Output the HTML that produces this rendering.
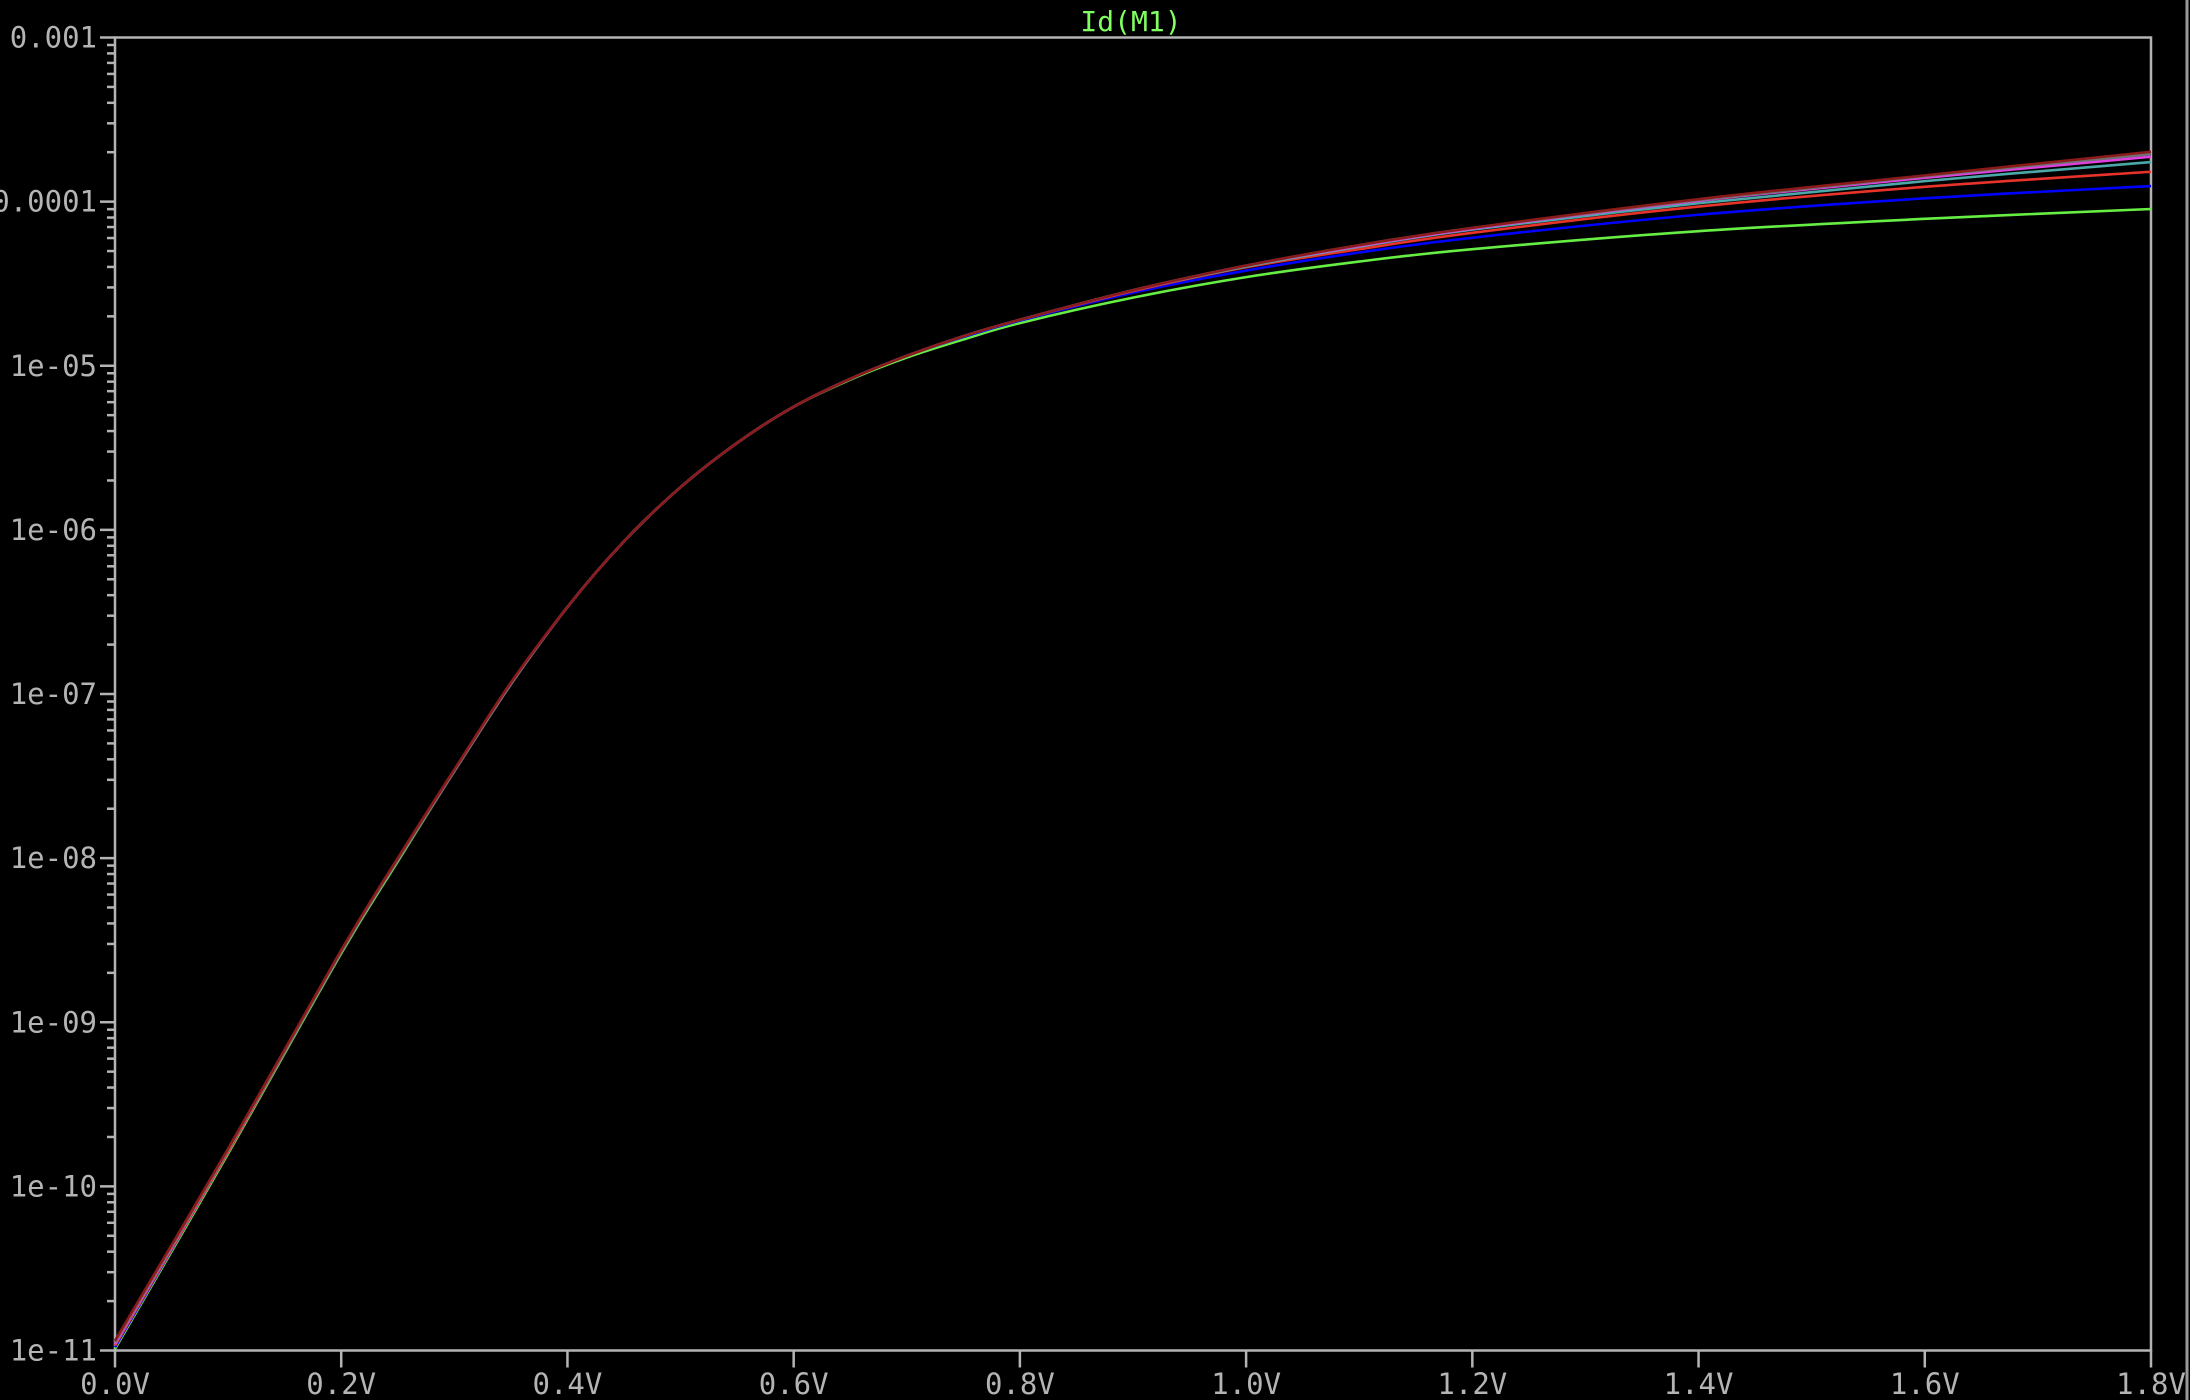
<!DOCTYPE html>
<html><head><meta charset="utf-8"><style>
html,body{margin:0;padding:0;background:#000;width:2190px;height:1400px;overflow:hidden}
svg{display:block}
text{font-family:"DejaVu Sans Mono","Liberation Mono",monospace}
</style></head><body>
<svg id="chart" width="2190" height="1400" viewBox="0 0 2190 1400" xmlns="http://www.w3.org/2000/svg">
<rect x="0" y="0" width="2190" height="1400" fill="#000"/>
<line x1="2187" y1="0" x2="2187" y2="1400" stroke="#9a9a9a" stroke-width="3"/>
<text x="1131" y="31" fill="#80ff60" font-size="28" text-anchor="middle">Id(M1)</text>
<g id="axes"></g>
<g id="series"></g>
</svg>
<script>
const xVals = [0,0.1,0.2,0.25,0.3,0.35,0.4,0.45,0.5,0.55,0.6,0.65,0.7,0.75,0.8,0.9,1.0,1.1,1.2,1.4,1.6,1.8];
const xTicks = [0,0.2,0.4,0.6,0.8,1.0,1.2,1.4,1.6,1.8];
const xTickLabels = ["0.0V","0.2V","0.4V","0.6V","0.8V","1.0V","1.2V","1.4V","1.6V","1.8V"];
const yDecades = [-3,-4,-5,-6,-7,-8,-9,-10,-11];
const yTickLabels = ["0.001","0.0001","1e-05","1e-06","1e-07","1e-08","1e-09","1e-10","1e-11"];
const seriesNames = ["green","blue","red","cyan","magenta","gray","darkred"];
const seriesColors = ["#66ee44","#0000ff","#e8332a","#4aa8a8","#e040e0","#707070","#8b1a1a"];
// log10(Id) values per series
const sGreen   = [-10.99,-9.80,-8.58,-8.02,-7.47,-6.94,-6.47,-6.07,-5.74,-5.47,-5.25,-5.085,-4.95,-4.84,-4.74,-4.585,-4.46,-4.365,-4.29,-4.18,-4.105,-4.045];
const sBlue    = [-10.98,-9.79,-8.57,-8.01,-7.47,-6.94,-6.47,-6.07,-5.74,-5.47,-5.25,-5.08,-4.94,-4.825,-4.725,-4.555,-4.42,-4.31,-4.22,-4.08,-3.98,-3.905];
const sRed     = [-10.97,-9.79,-8.57,-8.01,-7.47,-6.94,-6.47,-6.07,-5.74,-5.47,-5.25,-5.08,-4.94,-4.82,-4.72,-4.545,-4.40,-4.29,-4.19,-4.03,-3.91,-3.818];
const sCyan    = [-10.96,-9.78,-8.57,-8.01,-7.47,-6.94,-6.47,-6.07,-5.74,-5.47,-5.25,-5.08,-4.94,-4.82,-4.72,-4.54,-4.395,-4.275,-4.17,-4.01,-3.875,-3.759];
const sMagenta = [-10.96,-9.78,-8.57,-8.01,-7.47,-6.94,-6.47,-6.07,-5.74,-5.47,-5.25,-5.08,-4.94,-4.82,-4.72,-4.54,-4.39,-4.27,-4.165,-3.995,-3.855,-3.726];
const sGray    = [-10.95,-9.78,-8.57,-8.01,-7.47,-6.94,-6.47,-6.07,-5.74,-5.47,-5.25,-5.08,-4.94,-4.82,-4.72,-4.54,-4.39,-4.265,-4.16,-3.99,-3.845,-3.71];
const sDarkred = [-10.94,-9.77,-8.56,-8.00,-7.46,-6.93,-6.47,-6.07,-5.74,-5.47,-5.25,-5.08,-4.94,-4.82,-4.72,-4.54,-4.39,-4.265,-4.16,-3.985,-3.84,-3.696];
const allSeries = [sGreen,sBlue,sRed,sCyan,sMagenta,sGray,sDarkred];

const L=115,R=2151,T=37.5,B=1350.5;
const xMin=0,xMax=1.8,yMax=-3,yMin=-11;
function xs(v){return L+(v-xMin)/(xMax-xMin)*(R-L);}
function ys(lg){return T+(yMax-lg)/(yMax-yMin)*(B-T);}
const NS="http://www.w3.org/2000/svg";
const axes=document.getElementById('axes');
const sg=document.getElementById('series');
function mk(tag,attrs,parent){const e=document.createElementNS(NS,tag);for(const k in attrs)e.setAttribute(k,attrs[k]);parent.appendChild(e);return e;}
const axColor="#b4b4b4";
const frame=mk('rect',{x:L,y:T,width:R-L,height:B-T,fill:'none',stroke:axColor,'stroke-width':2.5},axes);


yDecades.forEach((d,i)=>{
  const y=ys(d);
  const t=mk('line',{x1:100,y1:y,x2:L,y2:y,stroke:axColor,'stroke-width':2.5},axes);
  
  
  const lb=mk('text',{x:97,y:y+10,fill:axColor,'font-size':29,'text-anchor':'end'},axes);
  lb.textContent=yTickLabels[i];
  
  
  if(d>yMin){
    for(let m=2;m<=9;m++){
      const yy=ys(d-1+Math.log10(m));
      const mt=mk('line',{x1:107,y1:yy,x2:L,y2:yy,stroke:axColor,'stroke-width':2.5},axes);
      
      
    }
  }
});
xTicks.forEach((v,i)=>{
  const x=xs(v);
  const t=mk('line',{x1:x,y1:B,x2:x,y2:B+17,stroke:axColor,'stroke-width':2.5},axes);
  
  
  const lb=mk('text',{x:x,y:1394,fill:axColor,'font-size':29,'text-anchor':'middle'},axes);
  lb.textContent=xTickLabels[i];
  
  
});
function pathFor(arr){
  const p=arr.map((v,i)=>[xs(xVals[i]),ys(v)]);
  let d=`M${p[0][0]},${p[0][1]}`;
  for(let i=0;i<p.length-1;i++){
    const p0=p[i-1]||p[i],p1=p[i],p2=p[i+1],p3=p[i+2]||p2;
    const c1=[p1[0]+(p2[0]-p0[0])/6,p1[1]+(p2[1]-p0[1])/6];
    const c2=[p2[0]-(p3[0]-p1[0])/6,p2[1]-(p3[1]-p1[1])/6];
    d+=` C${c1[0]},${c1[1]} ${c2[0]},${c2[1]} ${p2[0]},${p2[1]}`;
  }
  return d;
}
allSeries.forEach((arr,i)=>{
  const pth=mk('path',{d:pathFor(arr),fill:'none',stroke:seriesColors[i],'stroke-width':2.6},sg);
  
  
});
</script>
</body></html>
